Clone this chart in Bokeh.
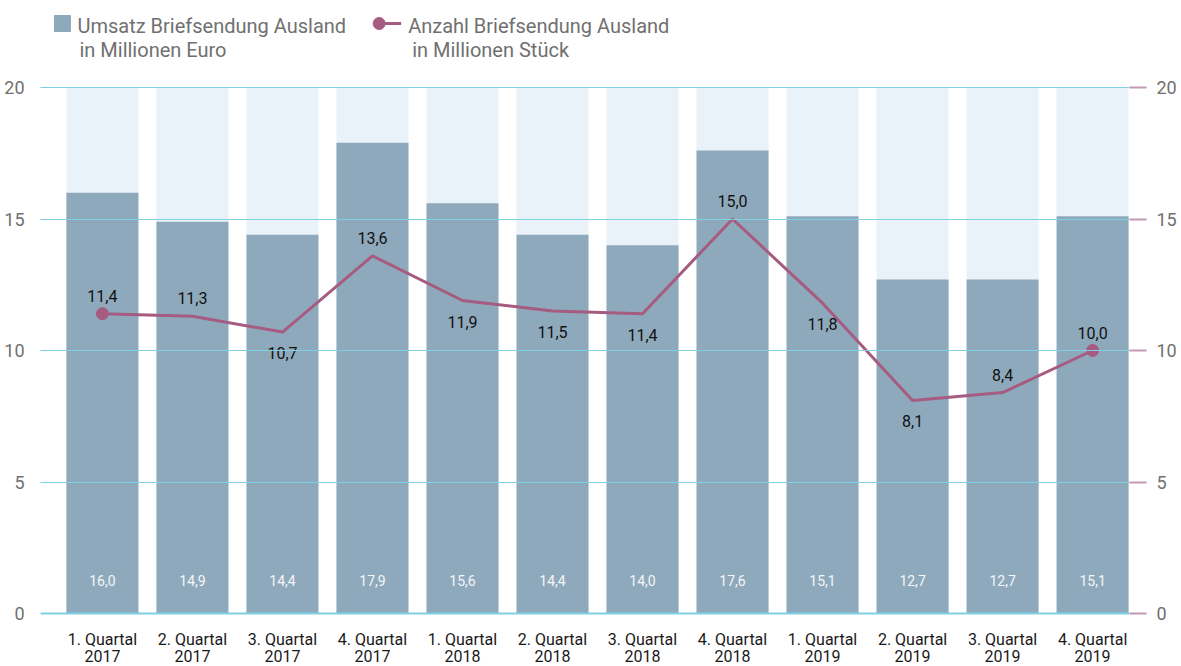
from bokeh.plotting import figure
from bokeh.models import Range1d, LinearAxis, FixedTicker, ColumnDataSource, Span
from bokeh.core.properties import value
from bokeh.embed import file_html
from bokeh.resources import INLINE

# ---- data ----
categories = ["1. Quartal\n2017", "2. Quartal\n2017", "3. Quartal\n2017", "4. Quartal\n2017",
              "1. Quartal\n2018", "2. Quartal\n2018", "3. Quartal\n2018", "4. Quartal\n2018",
              "1. Quartal\n2019", "2. Quartal\n2019", "3. Quartal\n2019", "4. Quartal\n2019"]
umsatz = [16.0, 14.9, 14.4, 17.9, 15.6, 14.4, 14.0, 17.6, 15.1, 12.7, 12.7, 15.1]
anzahl = [11.4, 11.3, 10.7, 13.6, 11.9, 11.5, 11.4, 15.0, 11.8, 8.1, 8.4, 10.0]
anzahl_label_side = ["above", "above", "below", "above", "below", "below",
                     "below", "above", "below", "below", "above", "above"]
y_ticks = [0, 5, 10, 15, 20]
legend_labels = [("Umsatz Briefsendung Ausland", "in Millionen Euro"),
                 ("Anzahl Briefsendung Ausland", "in Millionen Stück")]

def fmt(v):
    return f"{v:.1f}".replace(".", ",")

BAR = "#8fa9bc"
BG = "#e9f2f9"
LINE = "#a65b80"
GRID = "#7fd0e2"
FONT = "Roboto"

PX_PER_UNIT = 26.3
Y_MAX = 613.0 / PX_PER_UNIT
Y_MIN = -(666.0 - 613.0) / PX_PER_UNIT
x = list(range(len(categories)))

p = figure(width=1180, height=666, output_backend="svg", toolbar_location=None,
           x_range=Range1d(-0.688, 11.41), y_range=Range1d(Y_MIN, Y_MAX),
           min_border_left=40, min_border_right=51, min_border_top=0, min_border_bottom=0,
           x_axis_location=None, y_axis_location=None)
p.outline_line_color = None
p.background_fill_color = "white"

# bars
p.vbar(x=x, bottom=0, top=[y_ticks[-1]] * len(x), width=0.8, color=BG, line_color=None)
p.vbar(x=x, bottom=0, top=umsatz, width=0.8, color=BAR, line_color=None)
p.text(x=x, y=[1.25] * len(x), text=[fmt(v) for v in umsatz], text_align="center",
       text_baseline="middle", text_color="#f4f6f8", text_font=value(FONT), text_font_size="14px")

# line
p.line(x=x, y=anzahl, line_color=LINE, line_width=3)
p.scatter(x=[x[0], x[-1]], y=[anzahl[0], anzahl[-1]], size=12, color=LINE)

def side_source(side):
    idx = [i for i in x if anzahl_label_side[i] == side]
    return ColumnDataSource(dict(x=idx, y=[anzahl[i] for i in idx], t=[fmt(anzahl[i]) for i in idx]))

p.text(x="x", y="y", text="t", source=side_source("above"), text_align="center",
       text_baseline="middle", y_offset=-18, text_color="#111111",
       text_font=value(FONT), text_font_size="16px")
p.text(x="x", y="y", text="t", source=side_source("below"), text_align="center",
       text_baseline="middle", y_offset=21, text_color="#111111",
       text_font=value(FONT), text_font_size="16px")

# grid (drawn above the bars)
p.xgrid.grid_line_color = None
p.ygrid.ticker = FixedTicker(ticks=y_ticks)
p.ygrid.grid_line_color = GRID
p.ygrid.grid_line_width = 1
p.ygrid.level = "annotation"
p.add_layout(Span(location=0, dimension="width", line_color=GRID, line_width=2))

# category labels below the baseline
p.text(x=x, y=[0] * len(x), text=categories, text_align="center", text_baseline="top",
       y_offset=16, text_line_height=0.9, text_color="#1a1a1a",
       text_font=value(FONT), text_font_size="16px")

# left axis
la = LinearAxis(ticker=FixedTicker(ticks=y_ticks))
la.axis_line_color = None
la.major_tick_line_color = None
la.minor_tick_line_color = None
la.major_label_standoff = 10
la.major_label_text_font = FONT
la.major_label_text_font_size = "18px"
la.major_label_text_color = "#707070"
p.add_layout(la, "left")

# right axis
ra = LinearAxis(ticker=FixedTicker(ticks=y_ticks))
ra.axis_line_color = None
ra.major_tick_line_color = "#c29ab2"
ra.major_tick_line_width = 2
ra.major_tick_in = 0
ra.major_tick_out = 17
ra.minor_tick_line_color = None
ra.major_label_standoff = 10
ra.major_label_text_font = FONT
ra.major_label_text_font_size = "18px"
ra.major_label_text_color = "#707070"
p.add_layout(ra, "right")

# legend (drawn inside the top of the frame)
def dx(px):
    return (px - 102.0) / 90.1
def dy(py):
    return (613.0 - py) / PX_PER_UNIT

p.scatter(x=[dx(62)], y=[dy(23)], marker="square", size=16, color=BAR)
p.line(x=[dx(379), dx(401)], y=[dy(23), dy(23)], line_color=LINE, line_width=3)
p.scatter(x=[dx(379)], y=[dy(23)], size=12, color=LINE)
p.text(x=[dx(77), dx(79), dx(408), dx(412)],
       y=[dy(25), dy(49), dy(25), dy(49)],
       text=[legend_labels[0][0], legend_labels[0][1], legend_labels[1][0], legend_labels[1][1]],
       text_align="left", text_baseline="middle", text_color="#707070",
       text_font=value(FONT), text_font_size="20px")

open("out.html", "w").write(file_html(p, INLINE))
